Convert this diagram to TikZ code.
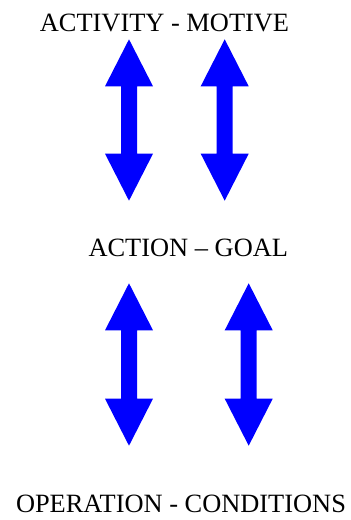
\documentclass[tikz,border=0pt]{standalone}
\usepackage{fontspec}
\setmainfont{Liberation Serif}
\usepackage{tikz}
\definecolor{arrBlue}{HTML}{0000FF}

\begin{document}
\begin{tikzpicture}[x=1pt,y=-1pt,
  lvl/.style={anchor=base, inner sep=0pt, font=\fontsize{26.4}{30}\selectfont},
  dblarrow/.pic={% #1 = half length
    \fill[arrBlue] (0,-#1) -- (24,-#1+47) -- (8,-#1+47) -- (8,#1-47) -- (24,#1-47)
      -- (0,#1) -- (-24,#1-47) -- (-8,#1-47) -- (-8,-#1+47) -- (-24,-#1+47) -- cycle;}]
\useasboundingbox (0,0) rectangle (351,520);
% the three levels
\node[lvl] (activity) at (164.5,31.7) {ACTIVITY - MOTIVE};
\node[lvl] (action) at (188.3,256) {ACTION -- GOAL};
\node[lvl] (operation) at (181,512.3) {OPERATION - CONDITIONS};
% arrows between them
\pic (a1) at (129,120) {dblarrow=80.7};
\pic (a2) at (224.7,120) {dblarrow=80.7};
\pic (a3) at (129,364.5) {dblarrow=81.2};
\pic (a4) at (248.7,364.5) {dblarrow=81.2};
\end{tikzpicture}
\end{document}
